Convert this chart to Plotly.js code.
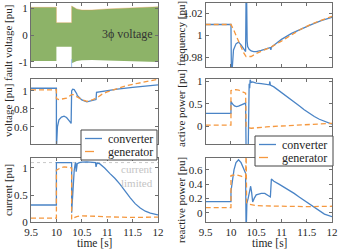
<!DOCTYPE html>
<html><head><meta charset="utf-8">
<script src="https://cdn.plot.ly/plotly-3.0.1.min.js"></script>
<style>html,body{margin:0;padding:0;background:#fff;}#chart{width:341px;height:250px;}</style>
</head><body><div id="chart"></div>
<script>
// ---- fault voltage envelope (3-phase) ----
const faultT     = [9.5, 10.0, 10.0, 10.3, 10.3, 10.4, 10.5, 10.7, 11.0, 11.5, 12.0];
const faultUpper = [1.03, 1.03, 0.46, 0.46, 1.08, 0.97, 0.93, 0.93, 0.97, 1.01, 1.05];
const faultLower = [-0.97, -0.97, -0.44, -0.44, -1.05, -0.97, -0.94, -0.93, -0.95, -0.98, -1.0];
const faultSpikeT = [10.3, 10.3];
const faultSpikeV = [-0.9, -1.3];

// ---- frequency ----
const freqConvT = [9.5, 10.0, 10.01, 10.05, 10.1, 10.15, 10.2, 10.25, 10.29, 10.3, 10.31, 10.32, 10.33, 10.36, 10.4, 10.45, 10.5, 10.6, 10.7, 10.78, 10.79, 10.8, 10.9, 11.0, 11.2, 11.4, 11.6, 11.8, 12.0];
const freqConvV = [1.010, 1.010, 0.960, 0.987, 0.9925, 0.994, 0.9915, 0.9875, 0.9855, 1.04, 1.035, 0.995, 0.990, 0.9875, 0.986, 0.9855, 0.9855, 0.9865, 0.988, 0.989, 0.987, 0.9895, 0.993, 0.9965, 1.002, 1.0062, 1.0102, 1.0138, 1.0165];
const freqGenT = [9.5, 10.0, 10.05, 10.1, 10.15, 10.2, 10.25, 10.3, 10.35, 10.4, 10.5, 10.6, 10.8, 11.0, 11.2, 11.4, 11.6, 11.8, 12.0];
const freqGenV = [1.010, 1.010, 1.0055, 1.0, 0.994, 0.9895, 0.9845, 0.981, 0.9807, 0.981, 0.9838, 0.9858, 0.9898, 0.995, 1.0005, 1.0062, 1.0105, 1.0143, 1.0175];

// ---- voltage ----
const voltConvT = [9.5, 10.0, 10.0, 10.02, 10.05, 10.1, 10.15, 10.2, 10.25, 10.29, 10.3, 10.32, 10.35, 10.38, 10.4, 10.41, 10.45, 10.5, 10.6, 10.7, 10.78, 10.79, 10.9, 11.2, 11.5, 11.8, 12.0];
const voltConvV = [1.03, 1.03, 0.35, 0.6, 0.68, 0.71, 0.72, 0.705, 0.67, 0.64, 1.0, 1.02, 1.015, 0.995, 0.97, 0.95, 0.925, 0.9, 0.88, 0.89, 0.905, 0.985, 0.995, 1.02, 1.04, 1.058, 1.067];
const voltGenT = [9.5, 10.0, 10.0, 10.05, 10.1, 10.15, 10.2, 10.25, 10.29, 10.3, 10.33, 10.4, 10.5, 10.6, 10.7, 10.8, 10.9, 11.0, 11.2, 11.4, 11.6, 11.8, 12.0];
const voltGenV = [1.013, 1.013, 0.915, 0.905, 0.91, 0.915, 0.92, 0.94, 0.955, 0.96, 0.96, 0.935, 0.905, 0.885, 0.9, 0.925, 0.965, 0.99, 1.03, 1.062, 1.085, 1.105, 1.13];

// ---- current ----
const currConvT = [9.5, 10.0, 10.0, 10.3, 10.3, 10.32, 10.35, 10.37, 10.38, 10.39, 10.41, 10.45, 10.5, 10.6, 10.7, 10.77, 10.78, 10.8, 10.85, 10.95, 11.05, 11.15, 11.25, 11.35, 11.45, 11.55, 11.65, 11.75, 11.85, 12.0];
const currConvV = [0.315, 0.315, 1.1, 1.1, 0.17, 0.6, 0.95, 1.08, 1.1, 0.93, 1.08, 1.1, 1.11, 1.115, 1.11, 1.1, 1.02, 1.09, 1.08, 1.0, 0.9, 0.81, 0.7, 0.57, 0.45, 0.34, 0.26, 0.2, 0.165, 0.13];
const currGenT = [9.5, 10.0, 10.0, 10.05, 10.1, 10.15, 10.2, 10.25, 10.3, 10.3, 10.35, 10.4, 10.5, 10.6, 10.8, 11.0, 11.5, 12.0];
const currGenV = [0.07, 0.07, 0.96, 0.99, 1.01, 1.02, 1.02, 1.01, 1.0, 0.05, 0.08, 0.1, 0.115, 0.115, 0.105, 0.095, 0.085, 0.09];
const currLimitT = [9.5, 12.0];
const currLimitV = [1.1, 1.1];

// ---- active power ----
const pConvT = [9.5, 10.0, 10.0, 10.03, 10.07, 10.11, 10.15, 10.2, 10.25, 10.29, 10.3, 10.34, 10.36, 10.37, 10.38, 10.4, 10.43, 10.5, 10.6, 10.7, 10.76, 10.77, 10.78, 10.85, 10.95, 11.05, 11.15, 11.25, 11.35, 11.45, 11.55, 11.65, 11.75, 11.85, 12.0];
const pConvV = [0.29, 0.29, 0.56, 0.5, 0.455, 0.44, 0.45, 0.48, 0.51, 0.52, -0.6, -0.6, 0.95, 0.85, 1.04, 0.98, 0.99, 0.965, 0.95, 0.935, 0.925, 1.0, 0.92, 0.88, 0.8, 0.72, 0.64, 0.55, 0.46, 0.37, 0.29, 0.22, 0.16, 0.11, 0.05];
const pGenT = [9.5, 10.0, 10.0, 10.05, 10.1, 10.15, 10.2, 10.25, 10.29, 10.3, 10.33, 10.4, 10.5, 10.7, 11.0, 11.5, 12.0];
const pGenV = [0.03, 0.03, 0.8, 0.815, 0.82, 0.81, 0.79, 0.76, 0.74, 0.0, -0.03, -0.04, -0.035, -0.01, 0.01, 0.04, 0.07];

// ---- reactive power ----
const qConvT = [9.5, 10.0, 10.0, 10.03, 10.06, 10.1, 10.15, 10.2, 10.25, 10.29, 10.3, 10.315, 10.34, 10.37, 10.39, 10.41, 10.43, 10.46, 10.5, 10.55, 10.6, 10.67, 10.73, 10.78, 10.8, 10.85, 10.95, 11.05, 11.15, 11.25, 11.35, 11.45, 11.55, 11.65, 11.75, 11.85, 12.0];
const qConvV = [0.155, 0.155, 0.3, 0.45, 0.6, 0.7, 0.74, 0.7, 0.62, 0.55, -0.3, 0.13, 0.2, 0.34, 0.37, 0.28, 0.15, 0.2, 0.25, 0.26, 0.27, 0.27, 0.24, 0.22, 0.47, 0.44, 0.40, 0.36, 0.32, 0.27, 0.22, 0.17, 0.12, 0.07, 0.02, -0.02, -0.055];
const qGenT = [9.5, 10.0, 10.0, 10.1, 10.2, 10.29, 10.3, 10.31, 10.35, 10.4, 10.5, 10.7, 11.0, 11.5, 12.0];
const qGenV = [0.07, 0.07, 0.52, 0.53, 0.51, 0.49, 0.9, 0.14, 0.12, 0.11, 0.1, 0.095, 0.09, 0.085, 0.09];

const xTicks = [9.5, 10, 10.5, 11, 11.5, 12];
const xTickText = ['9.5', '10', '10.5', '11', '11.5', '12'];
const seriesNames = ['converter', 'generator'];

const BLUE = '#4a84c6', ORANGE = '#f5983f', FONT = 'Liberation Serif', TXT = '#262626', AX = '#6e6e6e';
const GEN_DASH = '5px,3px';

function conv(x, y, ax) {
  return {x: x, y: y, xaxis: 'x' + ax, yaxis: 'y' + ax, mode: 'lines', name: seriesNames[0],
    line: {color: BLUE, width: 1.3}, showlegend: false, hoverinfo: 'skip'};
}
function gen(x, y, ax) {
  return {x: x, y: y, xaxis: 'x' + ax, yaxis: 'y' + ax, mode: 'lines', name: seriesNames[1],
    line: {color: ORANGE, width: 1.3, dash: GEN_DASH}, showlegend: false, hoverinfo: 'skip'};
}
const traces = [
  {x: faultT, y: faultLower, xaxis: 'x', yaxis: 'y', mode: 'lines', line: {width: 0, color: ORANGE}, showlegend: false, hoverinfo: 'skip'},
  {x: faultT, y: faultUpper, xaxis: 'x', yaxis: 'y', mode: 'lines', fill: 'tonexty', fillcolor: 'rgb(141,179,104)', line: {width: 0.6, color: 'rgba(230,150,70,0.6)'}, showlegend: false, hoverinfo: 'skip'},
  {x: faultSpikeT, y: faultSpikeV, xaxis: 'x', yaxis: 'y', mode: 'lines', line: {width: 1, color: '#9cc0e8'}, showlegend: false, hoverinfo: 'skip'},
  conv(freqConvT, freqConvV, '2'), gen(freqGenT, freqGenV, '2'),
  conv(voltConvT, voltConvV, '3'), gen(voltGenT, voltGenV, '3'),
  {x: currLimitT, y: currLimitV, xaxis: 'x5', yaxis: 'y5', mode: 'lines', line: {color: '#c8c8c8', width: 1, dash: 'dot'}, showlegend: false, hoverinfo: 'skip'},
  conv(currConvT, currConvV, '5'), gen(currGenT, currGenV, '5'),
  conv(pConvT, pConvV, '4'), gen(pGenT, pGenV, '4'),
  conv(qConvT, qConvV, '6'), gen(qGenT, qGenV, '6')
];

const W = 341, H = 250;
const colL = [31 / W, 158 / W], colR = [205.7 / W, 332 / W];
const rows = [[1 - 67 / H, 1 - 3 / H], [1 - 144 / H, 1 - 79 / H], [1 - 222 / H, 1 - 158 / H]];

function xa(dom, anchor, labels) {
  return {domain: dom, anchor: anchor, range: [9.5, 12], tickvals: xTicks, ticktext: xTickText,
    showticklabels: labels, showline: true, mirror: 'ticks', linecolor: AX, linewidth: 1,
    ticks: 'inside', ticklen: 3, tickcolor: AX, showgrid: false, zeroline: false,
    tickfont: {family: FONT, size: 11, color: TXT}};
}
function ya(dom, anchor, range, tv, tt) {
  return {domain: dom, anchor: anchor, range: range, tickvals: tv, ticktext: tt,
    showline: true, mirror: 'ticks', linecolor: AX, linewidth: 1,
    ticks: 'inside', ticklen: 3, tickcolor: AX, showgrid: false, zeroline: false,
    tickfont: {family: FONT, size: 11, color: TXT}};
}

function txt(text, x, y, opts) {
  return Object.assign({text: text, xref: 'paper', yref: 'paper', x: x / W, y: 1 - y / H, showarrow: false,
    xanchor: 'center', yanchor: 'middle', font: {family: FONT, size: 11, color: TXT}}, opts || {});
}
function ytitle(text, x, y) { return txt(text, x, y, {textangle: -90}); }

// legend boxes (paper pixels): [left, top, right, bottom]
const shapes = [], legendAnn = [];
function legendBox(l, t, r, b) {
  shapes.push({type: 'rect', xref: 'paper', yref: 'paper', x0: l / W, x1: r / W, y0: 1 - b / H, y1: 1 - t / H,
    fillcolor: '#fff', line: {color: '#444', width: 1}, layer: 'above'});
  const rowY = [t + 8.5, t + 21.5];
  const cols = [BLUE, ORANGE], dashes = ['solid', 'dash'];
  for (let i = 0; i < 2; i++) {
    shapes.push({type: 'line', xref: 'paper', yref: 'paper', x0: (l + 4) / W, x1: (l + 21) / W, y0: 1 - rowY[i] / H, y1: 1 - rowY[i] / H,
      line: {color: cols[i], width: 1.3, dash: dashes[i]}, layer: 'above'});
    legendAnn.push(txt(seriesNames[i], l + 25, rowY[i], {xanchor: 'left', font: {family: FONT, size: 12, color: TXT}}));
  }
}
legendBox(81, 130, 157, 160);
legendBox(255, 136, 333, 166);

const layout = {
  width: W, height: H, margin: {l: 0, r: 0, t: 0, b: 0},
  paper_bgcolor: '#fff', plot_bgcolor: '#fff',
  font: {family: FONT, size: 11, color: TXT}, showlegend: false,
  xaxis: xa(colL, 'y', false), yaxis: ya(rows[0], 'x', [-1.19, 1.19], [-1, 0, 1], ['-1', '0', '1']),
  xaxis2: xa(colR, 'y2', false), yaxis2: ya(rows[0], 'x2', [0.9715, 1.0295], [0.98, 1, 1.02], ['0.98', '1', '1.02']),
  xaxis3: xa(colL, 'y3', false), yaxis3: ya(rows[1], 'x3', [0.411, 1.133], [0.6, 0.8, 1], ['0.6', '0.8', '1']),
  xaxis4: xa(colR, 'y4', false), yaxis4: ya(rows[1], 'x4', [-0.39, 1.055], [0, 0.5, 1], ['0', '0.5', '1']),
  xaxis5: xa(colL, 'y5', true), yaxis5: ya(rows[2], 'x5', [0, 1.185], [0, 0.5, 1], ['0', '0.5', '1']),
  xaxis6: xa(colR, 'y6', true), yaxis6: ya(rows[2], 'x6', [-0.13, 0.765], [0, 0.2, 0.4, 0.6], ['0', '0.2', '0.4', '0.6']),
  shapes: shapes,
  annotations: [
    ytitle('fault voltage [pu]', 8, 43), ytitle('voltage [pu]', 8, 111), ytitle('current [pu]', 8, 190),
    ytitle('frequency [pu]', 181, 34), ytitle('active power [pu]', 181, 108), ytitle('reactive power [pu]', 181, 200),
    txt('time [s]', 94.5, 243, {font: {family: FONT, size: 11.5, color: TXT}}),
    txt('time [s]', 269, 243, {font: {family: FONT, size: 11.5, color: TXT}}),
    txt('3ϕ voltage', 127, 34, {font: {family: FONT, size: 12, color: '#333'}}),
    txt('current<br>limited', 155, 176, {xanchor: 'right', align: 'right', font: {family: FONT, size: 11, color: '#c4c4c4'}})
  ].concat(legendAnn)
};

Plotly.newPlot('chart', traces, layout, {staticPlot: true, displayModeBar: false});
</script>
</body></html>
